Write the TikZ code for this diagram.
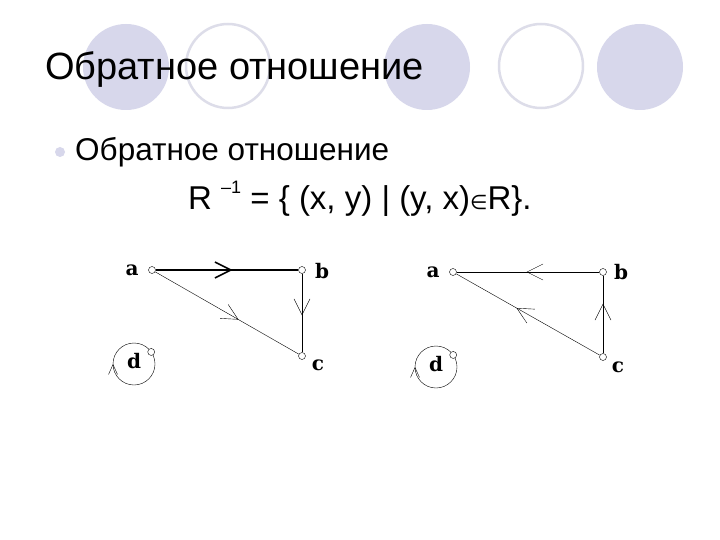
\documentclass[tikz,border=0pt]{standalone}
\usepackage{fontspec}
\setmainfont{Liberation Sans}
\newfontfamily\lblfont{DejaVu Serif}
\newfontfamily\symfont{DejaVu Sans}
\usetikzlibrary{arrows.meta,decorations.markings}
\definecolor{lav}{RGB}{215,215,235}
\definecolor{lavline}{RGB}{221,221,233}
\begin{document}
\begin{tikzpicture}[x=1pt,y=-1pt,
	vert/.style={draw,circle,fill=white,inner sep=0pt,minimum size=7pt},
	lbl/.style={inner sep=0pt,font=\lblfont\bfseries\fontsize{20}{20}\selectfont},
	txt/.style={anchor=base west,inner sep=0pt},
	mid/.style={postaction=decorate,decoration={markings,mark=at position #1 with {\arrow{Straight Barb[length=16pt,width=16pt]}}}},
	loopmid/.style={postaction=decorate,decoration={markings,mark=at position 0.5 with {\arrowreversed{Straight Barb[length=10pt,width=9pt]}}}}]
	\useasboundingbox (0,0) rectangle (720,540);
	\fill[white] (0,0) rectangle (720,540);
	% circles on top
	\fill[lav] (126,67) circle (43pt);
	\draw[lavline,line width=2.5pt] (228,66) circle (42pt);
	\fill[lav] (427,67) circle (43pt);
	\draw[lavline,line width=2.5pt] (541,66) circle (42pt);
	\fill[lav] (640,67) circle (43pt);
	\node[txt,font=\fontsize{38}{38}\selectfont] (title) at (45,80) {Обратное отношение};
	\fill[lav] (60,152) circle (5pt);
	\node[txt,font=\fontsize{31.5}{31.5}\selectfont] (item) at (75,161) {Обратное отношение};
	\node[txt,font=\fontsize{33}{33}\selectfont] (rel) at (188,210) {R \raisebox{0.5em}{\fontsize{18}{18}\selectfont –1} = \{ (x, y) | (y, x){\symfont\fontsize{20}{20}\selectfont ∈}R\}.};
	% R
	\node[vert] (a1) at (152,270){};
	\node[vert] (b1) at (302,270){};
	\node[vert] (c1) at (302,356){};
	\coordinate (o1) at (134,364);
	\draw[loopmid] (o1) circle (21pt);
	\node[vert] (d1) at ([shift={(35:21pt)}]o1){};
	\node[lbl] (la1) at (132,270){a};
	\node[lbl] (lb1) at (322,271){b};
	\node[lbl] (lc1) at (318,365){c};
	\node[lbl] (ld1) at (134,361){d};
	\draw[line width=1.6pt,mid=0.54] (a1)--(b1);
	\draw[mid=0.58] (a1)--(c1);
	\draw[mid=0.53] (b1)--(c1);
	% R^{-1}
	\node[vert] (a2) at (453,272){};
	\node[vert] (b2) at (603,272){};
	\node[vert] (c2) at (603,357){};
	\coordinate (o2) at (436,367);
	\draw[loopmid] (o2) circle (21pt);
	\node[vert] (d2) at ([shift={(35:21pt)}]o2){};
	\node[lbl] (la2) at (433,272){a};
	\node[lbl] (lb2) at (621,272){b};
	\node[lbl] (lc2) at (618,367){c};
	\node[lbl] (ld2) at (436,364){d};
	\draw[mid=0.51] (b2)--(a2);
	\draw[mid=0.58] (c2)--(a2);
	\draw[mid=0.64] (c2)--(b2);
\end{tikzpicture}
\end{document}
